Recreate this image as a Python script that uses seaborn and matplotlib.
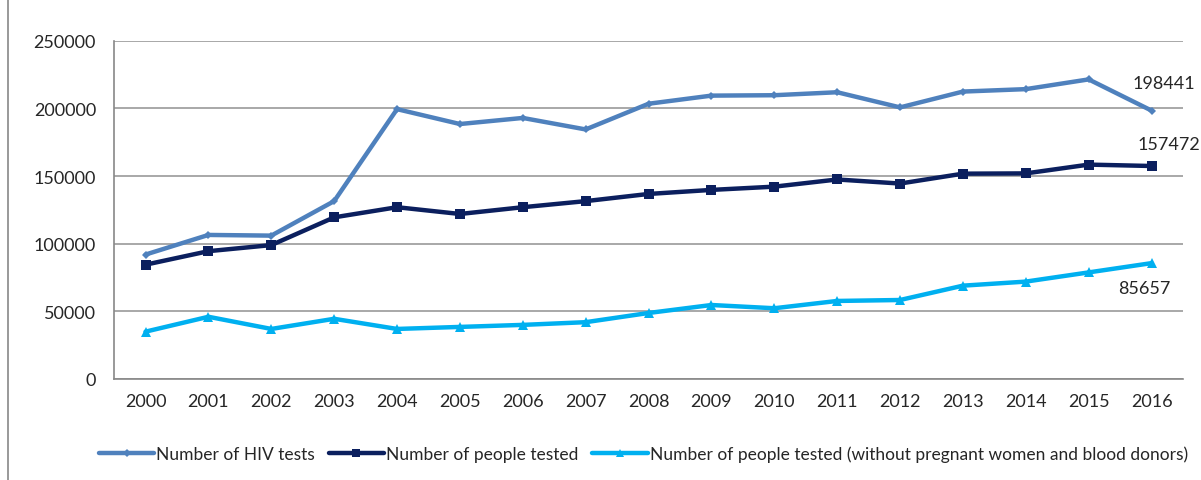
import numpy as np
import pandas as pd
import matplotlib
matplotlib.use("Agg")
import matplotlib.pyplot as plt
import seaborn as sns

years = [str(y) for y in range(2000, 2017)]
hiv_tests = [92000, 106500, 106000, 131500, 199500, 188500, 193000, 184500, 203500,
             209500, 209800, 212000, 200800, 212500, 214300, 221500, 198441]
people_tested = [84500, 94500, 99000, 119500, 127000, 122000, 127000, 131500, 136800,
                 139800, 142200, 147500, 144500, 151800, 152000, 158500, 157472]
people_no_preg = [35000, 46000, 37000, 44500, 37000, 38500, 40000, 42000, 48800,
                  54700, 52300, 57700, 58400, 69000, 72000, 78800, 85657]
labels = ["Number of HIV tests", "Number of people tested",
          "Number of people tested (without pregnant women and blood donors)"]
colors = ["#4F81BD", "#0B1F5E", "#00B0F0"]
markers = ["D", "s", "^"]
msizes = [4.5, 7, 6.5]

sns.set_style("white")
plt.rcParams["font.family"] = ["Lato", "DejaVu Sans"]

fig = plt.figure(figsize=(12.01, 4.81), dpi=100)
ax = fig.add_axes([0.095, 0.21, 0.89, 0.703])

x = np.arange(len(years))
for vals, lab, col, mk, ms in zip([hiv_tests, people_tested, people_no_preg],
                                  labels, colors, markers, msizes):
    df = pd.DataFrame({"x": x, "y": vals})
    sns.lineplot(data=df, x="x", y="y", ax=ax, color=col, linewidth=3.2,
                 marker=mk, markersize=ms, markeredgewidth=0, label=lab)

ax.set_xlim(-0.5, len(years) - 0.5)
ax.set_ylim(0, 250000)
ax.set_yticks(range(0, 250001, 50000))
ax.set_yticklabels([str(v) for v in range(0, 250001, 50000)])
ax.set_xticks(x)
ax.set_xticklabels(years)
ax.set_xticks(np.arange(-0.5, len(years), 1), minor=True)
ax.tick_params(axis="x", which="major", length=0, pad=10, labelsize=13)
ax.tick_params(axis="x", which="minor", length=6, color="#888888", width=1.2, direction="out")
ax.tick_params(axis="y", length=7, color="#888888", width=1.2, labelsize=13, pad=6, direction="out")
ax.set_xlabel("")
ax.set_ylabel("")
ax.grid(axis="y", color="#999999", linewidth=1.2)
for s in ["top", "right"]:
    ax.spines[s].set_visible(False)
for s in ["left", "bottom"]:
    ax.spines[s].set_color("#888888")
    ax.spines[s].set_linewidth(1.2)

ax.annotate(str(hiv_tests[-1]), (x[-1], hiv_tests[-1]), xytext=(-14, 14),
            textcoords="offset points", fontsize=13, ha="left", va="bottom")
ax.annotate(str(people_tested[-1]), (x[-1], people_tested[-1]), xytext=(-10, 10),
            textcoords="offset points", fontsize=13, ha="left", va="bottom")
ax.annotate(str(people_no_preg[-1]), (x[-1], people_no_preg[-1]), xytext=(-5, -12),
            textcoords="offset points", fontsize=13, ha="center", va="top")

ax.legend(loc="upper center", bbox_to_anchor=(0.495, -0.15), ncol=3, frameon=False,
          fontsize=12.5, handlelength=3.2, handletextpad=0.1, columnspacing=0.8,
          markerscale=0.8)

fig.add_artist(plt.Line2D([0.007, 0.007], [0, 1], color="#888888", linewidth=1.2))

fig.savefig("out.png", dpi=100)
